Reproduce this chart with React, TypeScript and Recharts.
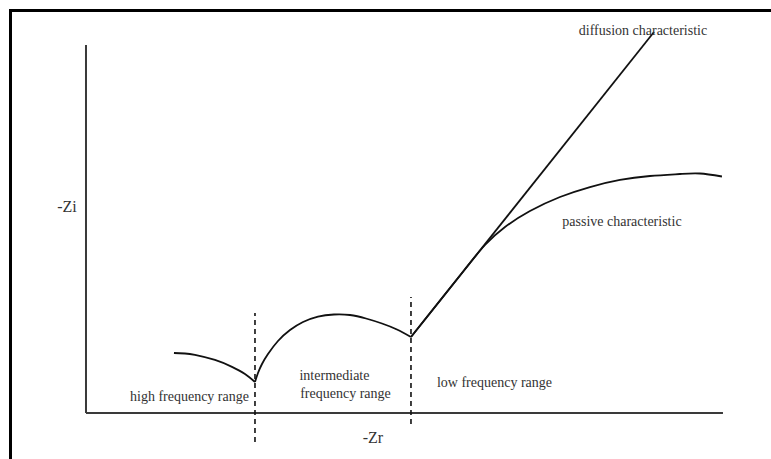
import React from 'react';
import { ComposedChart, Line, XAxis, YAxis, ReferenceLine, ReferenceDot } from 'recharts';

const WIDTH = 771;
const HEIGHT = 459;

// Scale domains cover the whole drawing surface; the drawn axes run 0..100 (arbitrary units).
const ZR_DOMAIN: [number, number] = [-13.5, 107.54];
const ZI_DOMAIN: [number, number] = [-12.5, 112.23];

// High frequency arc
const highZr = [13.81, 15.54, 17.11, 20.25, 22.92, 24.96, 26.53];
const highZi = [16.3, 16.17, 15.82, 14.43, 12.55, 10.6, 8.42];

// Intermediate frequency arc
const midZr = [26.53, 27.0, 27.63, 28.57, 30.14, 32.03, 34.07, 36.42, 38.93, 41.44, 43.96, 46.47, 48.82, 51.02];
const midZi = [8.42, 10.87, 13.32, 16.03, 19.57, 22.55, 24.73, 26.22, 26.77, 26.63, 25.68, 24.32, 22.69, 20.65];

// Low frequency: diffusion (straight) and passive (bending) characteristics
const diffusionZr = [51.02, 89.17];
const diffusionZi = [20.65, 103.53];
const passiveZr = [51.02, 55.57, 59.5, 62.64, 65.78, 69.7, 74.41, 79.12, 83.83, 88.54, 93.25, 96.39, 99.84];
const passiveZi = [20.65, 30.54, 39.08, 45.65, 50.54, 54.89, 58.7, 61.41, 63.34, 64.4, 64.95, 65.08, 64.27];

// Range boundaries (dashed)
const boundaryZr = [26.53, 51.02];
const boundaryTop = [27.2, 31.5];
const boundaryBottom = [-7.9, -3.0];

// Text annotations: centre x, baseline y, font size
const labelText = [
  'diffusion characteristic',
  'passive characteristic',
  'high frequency range',
  'intermediate',
  'frequency range',
  'low frequency range',
  '-Zi',
  '-Zr',
];
const labelZr = [87.44, 84.14, 16.25, 39.01, 40.74, 64.13, -2.98, 45.05];
const labelZi = [102.7, 50.8, 3.26, 8.97, 4.08, 7.07, 54.6, -8.15];
const labelSize = [14, 14, 14, 14, 14, 14, 16, 16];

const zip = (xs: number[], ys: number[]) => xs.map((x, i) => ({ zr: x, zi: ys[i] }));

const SERIF = "'Liberation Serif', 'Times New Roman', serif";
const CURVE = '#111';
const CURVE_WIDTH = 1.8;

export default function App() {
  return (
    <div style={{ position: 'absolute', left: 0, top: 0, width: WIDTH, height: HEIGHT, background: '#fff' }}>
      <div
        style={{
          position: 'absolute',
          left: 9,
          top: 9,
          width: WIDTH - 9,
          height: HEIGHT - 9,
          boxSizing: 'border-box',
          borderTop: '3px solid #000',
          borderLeft: '3px solid #000',
        }}
      />
      <div style={{ position: 'absolute', left: 0, top: 0 }}>
        <ComposedChart width={WIDTH} height={HEIGHT} margin={{ top: 0, right: 0, bottom: 0, left: 0 }}>
          <XAxis type="number" dataKey="zr" domain={ZR_DOMAIN} hide />
          <YAxis type="number" dataKey="zi" domain={ZI_DOMAIN} hide />

          {/* axes */}
          <ReferenceLine
            segment={[{ x: 0, y: 0 }, { x: 0, y: 100 }]}
            stroke="#3a3a3a"
            strokeWidth={2}
            ifOverflow="visible"
          />
          <ReferenceLine
            segment={[{ x: 0, y: 0 }, { x: 100, y: 0 }]}
            stroke="#3a3a3a"
            strokeWidth={2}
            ifOverflow="visible"
          />

          {boundaryZr.map((x, i) => (
            <ReferenceLine
              key={`b${i}`}
              segment={[{ x, y: boundaryBottom[i] }, { x, y: boundaryTop[i] }]}
              stroke="#111"
              strokeWidth={1.6}
              strokeDasharray="5 4"
              ifOverflow="visible"
            />
          ))}

          <Line data={zip(highZr, highZi)} dataKey="zi" type="natural" stroke={CURVE} strokeWidth={CURVE_WIDTH} dot={false} activeDot={false} isAnimationActive={false} />
          <Line data={zip(midZr, midZi)} dataKey="zi" type="natural" stroke={CURVE} strokeWidth={CURVE_WIDTH} dot={false} activeDot={false} isAnimationActive={false} />
          <Line data={zip(diffusionZr, diffusionZi)} dataKey="zi" type="linear" stroke={CURVE} strokeWidth={CURVE_WIDTH} dot={false} activeDot={false} isAnimationActive={false} />
          <Line data={zip(passiveZr, passiveZi)} dataKey="zi" type="natural" stroke={CURVE} strokeWidth={CURVE_WIDTH} dot={false} activeDot={false} isAnimationActive={false} />

          {labelText.map((t, i) => (
            <ReferenceDot
              key={t}
              x={labelZr[i]}
              y={labelZi[i]}
              r={0}
              fill="none"
              stroke="none"
              ifOverflow="visible"
              label={{
                content: (p: any) => (
                  <text
                    x={p.viewBox.x}
                    y={p.viewBox.y}
                    textAnchor="middle"
                    fontFamily={SERIF}
                    fontSize={labelSize[i]}
                    fill="#333"
                  >
                    {t}
                  </text>
                ),
              }}
            />
          ))}
        </ComposedChart>
      </div>
    </div>
  );
}
